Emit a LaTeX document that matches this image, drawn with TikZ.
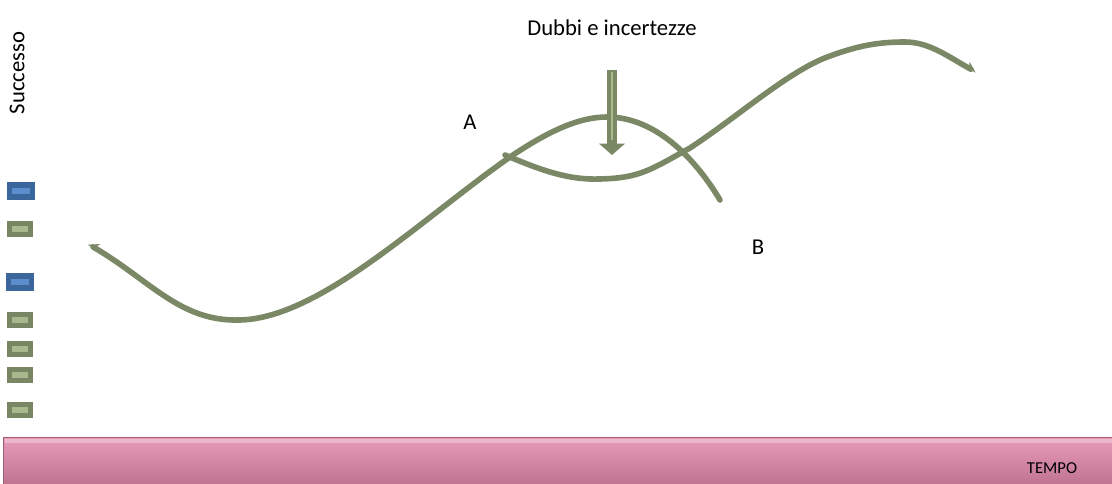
\documentclass[tikz,border=0pt]{standalone}
\usepackage{fontspec}
\setmainfont{Carlito}
\usetikzlibrary{arrows.meta, positioning, calc}
\definecolor{curvecolor} {RGB}{122, 136, 101}
\definecolor{greenbox}   {RGB}{120, 134, 100}
\definecolor{greeninner} {RGB}{170, 184, 142}
\definecolor{bluebox}    {RGB}{ 58, 102, 156}
\definecolor{blueinner}  {RGB}{ 92, 142, 206}
\definecolor{pinktop}    {RGB}{232, 156, 186}
\definecolor{pinkmid}    {RGB}{212, 134, 162}
\definecolor{pinkbot}    {RGB}{192, 116, 144}
\tikzset{
	curve/.style={
		line width=4.2pt, color=curvecolor, line cap=round
	},
	bigarrow/.style={
		-{Triangle[length=8.5pt, width=19pt]}, line width=8pt, color=curvecolor
	},
	legendbox/.style={
		rectangle, minimum width=19pt, minimum height=12pt,
		inner sep=0pt, draw=none
	},
	greenmark/.style={
		legendbox, fill=greenbox,
		path picture={\fill[greeninner] ($(path picture bounding box.center)+(-6pt,-2.2pt)$) rectangle ++(12pt,4.4pt);}
	},
	bluemark/.style={
		legendbox, fill=bluebox, minimum width=21pt, minimum height=13pt,
		path picture={\fill[blueinner] ($(path picture bounding box.center)+(-6.5pt,-2.5pt)$) rectangle ++(13pt,5pt);}
	},
	txt/.style={
		font=\fontsize{17}{20}\selectfont, inner sep=0pt
	}
}

\begin{document}
\begin{tikzpicture}[x=0.75pt, y=-0.75pt]
		\useasboundingbox (0,0) rectangle (1112,484);
		
		%% ═══════════════════════════════
		%%  TIME AXIS
		%% ═══════════════════════════════
		\shade[top color=pinktop, middle color=pinkmid, bottom color=pinkbot]
		(3,437) -- (1112,437) -- (1112,484) -- (3,484) -- cycle;
		\draw[pinkbot!80!black, line width=0.6pt] (3,484) -- (3,437) -- (1112,437);
		\fill[white, opacity=0.3] (5,439) rectangle (1112,443);
		\node[font=\fontsize{12.5}{15}\selectfont, inner sep=0pt] (tempo) at (1052,468) {TEMPO};
		
		%% ═══════════════════════════════
		%%  Y LABEL + LEGEND MARKS
		%% ═══════════════════════════════
		\node[txt, rotate=90] (successo) at (17,73) {Successo};
		
		\node[bluemark]  (m1) at (21,191) {};
		\node[greenmark] (m2) at (20,229) {};
		\node[bluemark]  (m3) at (20,282) {};
		\node[greenmark] (m4) at (20,320) {};
		\node[greenmark] (m5) at (20,349) {};
		\node[greenmark] (m6) at (20,375) {};
		\node[greenmark] (m7) at (20,410) {};
		
		%% ═══════════════════════════════
		%%  LABELS
		%% ═══════════════════════════════
		\node[txt] (dubbi) at (612,28) {Dubbi e incertezze};
		\node[txt] (lblA)  at (470,122) {A};
		\node[txt] (lblB)  at (758,247) {B};
		
		\coordinate (arrtop) at (612,70);
		\coordinate (arrtip) at (612,155);
		
		%% ═══════════════════════════════
		%%  CURVES
		%% ═══════════════════════════════
		
		% path A
		\draw[curve, {Stealth[harpoon, swap, length=7pt, width=9pt]}-]
		(88,244) .. controls (150,280) and (180,322) .. (240,320)
		.. controls (320,318) and (420,220) .. (510,157)
		.. controls (550,130) and (580,117) .. (607,117)
		.. controls (650,117) and (690,150) .. (720,200);
		
		% path B
		\draw[curve, -{Stealth[harpoon, length=7pt, width=9pt]}]
		(505,155) .. controls (545,172) and (570,180) .. (600,179)
		.. controls (640,178) and (650,170) .. (690,148)
		.. controls (740,115) and (790,70) .. (830,56)
		.. controls (860,45) and (880,42) .. (905,42)
		.. controls (930,42) and (950,58) .. (976,72);
		
		% doubts arrow
		\draw[bigarrow] (arrtop) -- (arrtip);
		\draw[greeninner, line width=1.2pt] (arrtop) ++(0,2) -- ++(0,68);
	\end{tikzpicture}
\end{document}
